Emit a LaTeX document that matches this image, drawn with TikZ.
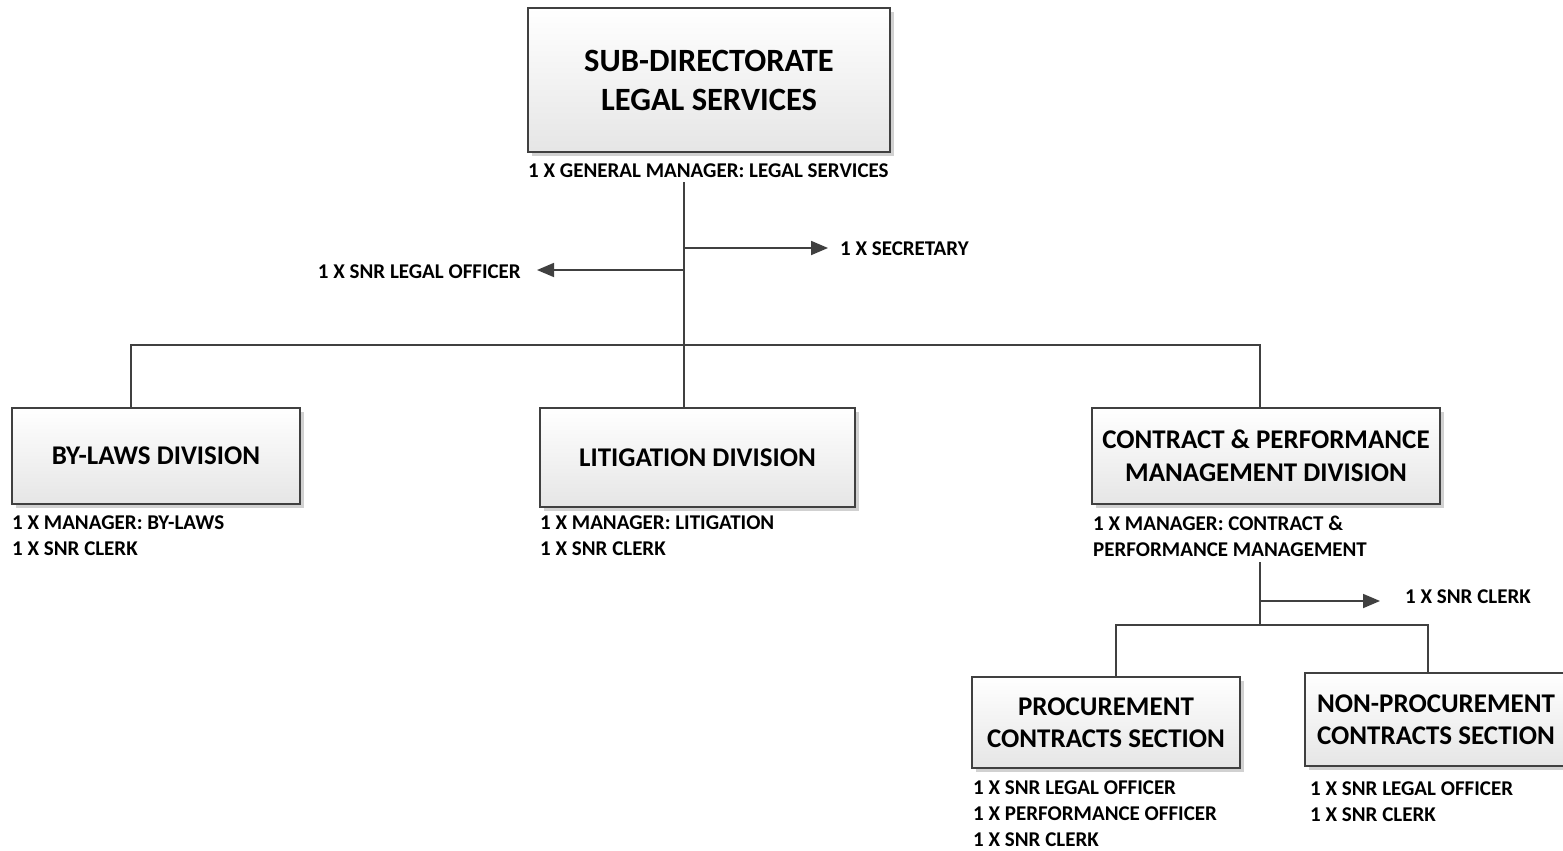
\documentclass[tikz,border=0pt]{standalone}
\usepackage{fontspec}
\setmainfont{Carlito}
\usetikzlibrary{arrows.meta,shadows}
\definecolor{linec}{HTML}{404040}
\tikzset{
  orgbox/.style={draw=linec, line width=1.8pt, top color=white, bottom color=black!10,
    drop shadow={shadow xshift=4pt, shadow yshift=-4pt, fill=black!18, opacity=1},
    align=center, inner sep=0pt, font=\bfseries\fontsize{27}{32.5}\selectfont},
  bigbox/.style={orgbox, font=\bfseries\fontsize{32.5}{39}\selectfont},
  staff/.style={anchor=north west, align=left, inner sep=0pt, font=\bfseries\fontsize{21}{26}\selectfont},
  conn/.style={draw=linec, line width=1.8pt},
  arr/.style={conn, -{Triangle[length=17pt,width=14pt]}}
}
\begin{document}
\begin{tikzpicture}[x=1pt,y=-1pt]
\useasboundingbox (0,0) rectangle (1563,851);
% boxes
\node[bigbox, minimum width=362pt, minimum height=144pt] (top) at (709,80) {SUB-DIRECTORATE\\LEGAL SERVICES};
\node[orgbox, minimum width=288pt, minimum height=96pt] (bylaws) at (156,456) {BY-LAWS DIVISION};
\node[orgbox, minimum width=315pt, minimum height=99pt] (litig) at (697.5,457.5) {LITIGATION DIVISION};
\node[orgbox, minimum width=348pt, minimum height=96pt] (contract) at (1266,456) {CONTRACT \& PERFORMANCE\\MANAGEMENT DIVISION};
\node[orgbox, minimum width=268pt, minimum height=91pt] (proc) at (1106,722.5) {PROCUREMENT\\CONTRACTS SECTION};
\node[orgbox, minimum width=262pt, minimum height=93pt] (nonproc) at (1436,719.5) {NON-PROCUREMENT\\CONTRACTS SECTION};
% staff labels
\node[staff] (topstaff) at (528,164) {1 X GENERAL MANAGER: LEGAL SERVICES};
\node[staff] (bylawsstaff) at (12,516) {1 X MANAGER: BY-LAWS\\1 X SNR CLERK};
\node[staff] (litigstaff) at (540,516) {1 X MANAGER: LITIGATION\\1 X SNR CLERK};
\node[staff] (contractstaff) at (1093,516) {1 X MANAGER: CONTRACT \&\\PERFORMANCE MANAGEMENT};
\node[staff] (procstaff) at (973,781) {1 X SNR LEGAL OFFICER\\1 X PERFORMANCE OFFICER\\1 X SNR CLERK};
\node[staff] (nonprocstaff) at (1310,782) {1 X SNR LEGAL OFFICER\\1 X SNR CLERK};
\node[staff, anchor=west] (secretary) at (840,249) {1 X SECRETARY};
\node[staff, anchor=east] (legalofficer) at (521,272) {1 X SNR LEGAL OFFICER};
\node[staff, anchor=west] (clerk) at (1405,597) {1 X SNR CLERK};
% coordinates
\coordinate (tA) at (684,182);
\coordinate (tSec) at (684,248);
\coordinate (tLeg) at (684,270);
\coordinate (cA) at (1260,562);
\coordinate (cClerk) at (1260,601);
\coordinate (cBus) at (1260,625);
% connectors
\draw[conn] (tA) -- (tA |- litig.north);
\draw[arr] (tSec) -- ([xshift=-12pt]secretary.west |- tSec);
\draw[arr] (tLeg) -- ([xshift=16pt]legalofficer.east |- tLeg);
\draw[conn] (bylaws.north -| 131,0) -- (131,345) -- (1260,345) -- (1260,345 |- contract.north);
\draw[conn] (cA) -- (cBus);
\draw[arr] (cClerk) -- ([xshift=-25pt]clerk.west |- cClerk);
\draw[conn] (proc.north -| 1116,0) -- (1116,625) -- (1428,625) -- (1428,625 |- nonproc.north);
\end{tikzpicture}
\end{document}
